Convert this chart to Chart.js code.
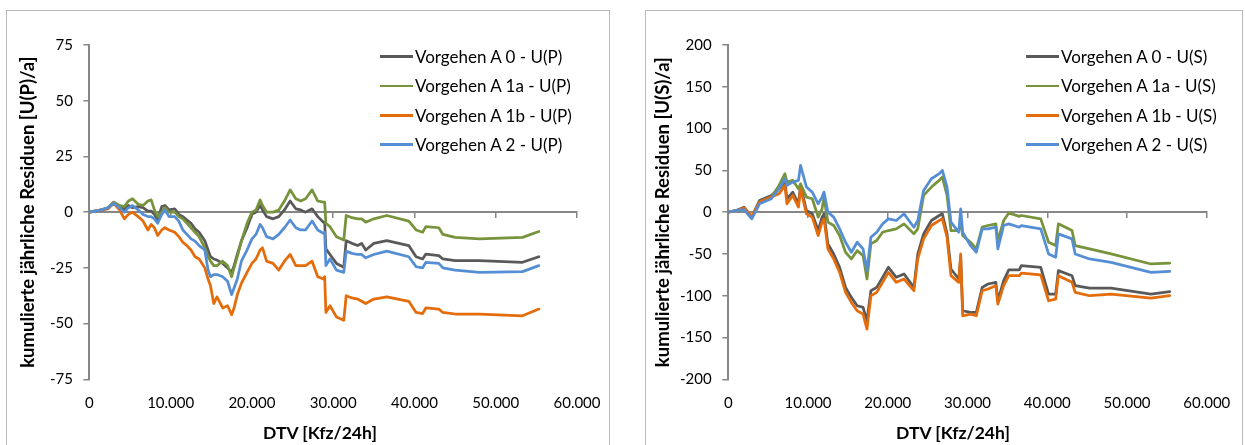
<!DOCTYPE html>
<html>
<head>
<meta charset="utf-8">
<script src="https://cdn.jsdelivr.net/npm/chart.js@4.4.1/dist/chart.umd.min.js"></script>
<style>
  html, body { margin: 0; padding: 0; background: #fff; width: 1245px; height: 445px; overflow: hidden; font-family: Lato, "Noto Sans", sans-serif; }
  .frame { position: absolute; border: 1px solid #b8b8b8; box-sizing: border-box; }
  canvas { position: absolute; top: 0; }
  .item { position: absolute; height: 20px; display: flex; align-items: center; white-space: nowrap; font-size: 17px; color: #000; }
  .swatch { display: inline-block; width: 33px; height: 2.5px; margin-right: 2px; }
  .xtitle { position: absolute; width: 300px; text-align: center; font-weight: bold; font-size: 17.5px; color: #000; line-height: 20px; }
</style>
</head>
<body>
<div class="frame" style="left:6px; top:10px; width:604px; height:450px"></div>
<div class="frame" style="left:645px; top:10px; width:598px; height:450px"></div>
<canvas id="chartP" width="625" height="445" style="left:0"></canvas>
<canvas id="chartS" width="620" height="445" style="left:625px"></canvas>
<div id="legendP"></div>
<div id="legendS"></div>
<div class="xtitle" id="xtP" style="left:170px; top:423px"></div>
<div class="xtitle" id="xtS" style="left:803px; top:423px"></div>
<script>
// ---- series names and colours ----
const SERIES_P = ["Vorgehen A 0 - U(P)", "Vorgehen A 1a - U(P)", "Vorgehen A 1b - U(P)", "Vorgehen A 2 - U(P)"];
const SERIES_S = ["Vorgehen A 0 - U(S)", "Vorgehen A 1a - U(S)", "Vorgehen A 1b - U(S)", "Vorgehen A 2 - U(S)"];
const COLORS = ["#595959", "#77933C", "#E46C0A", "#558ED5"];
const X_TITLE = "DTV [Kfz/24h]";
const Y_TITLE_P = "kumulierte jährliche Residuen [U(P)/a]";
const Y_TITLE_S = "kumulierte jährliche Residuen [U(S)/a]";

// ---- U(P): cumulative residuals over DTV ----
const DTV_P = [0, 1500, 2300, 3000, 3700, 4300, 4800, 5300, 6000, 6600, 7200, 7600, 8000, 8400, 8900, 9300, 9800, 10500, 11000, 11500,
  12000, 12500, 13000, 13500, 14200, 14600, 14900, 15300, 15700, 16400, 17000, 17500, 17800, 18200, 18700, 19400, 20000, 20500, 21000, 21300,
  21800, 22600, 23300, 24000, 24700, 25400, 26000, 26600, 27400, 28100, 28800, 28950, 29100, 29600, 30400, 31300, 31600, 32300, 33000, 33500,
  34000, 35000, 36600, 39300, 40200, 41000, 41400, 43000, 43500, 45000, 48000, 53300, 55300];
const A0_P = [0, 1, 2, 4.5, 2, 1.5, 3, 2, 2.5, 2, 0.5, 0.5, -1, -3.5, 2.5, 3, 1, 1.5, -1, -2,
  -3.5, -5, -7.5, -9, -12.8, -17, -20, -21, -21.5, -23, -25, -27, -24, -19, -13, -7, -1, 0, 3, 1,
  -2, -3, -2, 1, 5, 1.5, 1, 0, 1.5, -2, -4.5, -4.5, -16.5, -19, -23, -24.7, -12.8, -14, -15, -14,
  -17, -14, -12.8, -15, -20, -21, -18.8, -19.5, -21, -21.7, -21.7, -22.5, -20];
const A1A_P = [0, 1, 2, 4.5, 3, 2.5, 5, 6, 3.5, 3, 5, 5.5, 1, -2, 0, 2, 0, 0, -2, -3,
  -5, -7, -9, -11, -16, -20, -22, -24, -24, -22, -24, -29, -25, -20, -13, -5, 0, 1, 5.5, 3,
  0, 0, 1, 5, 10, 6, 5, 6, 10, 5, 4.5, 4.5, -5, -6.5, -11, -12.5, -1.5, -2.5, -3, -3,
  -4.5, -3, -1.5, -4, -8, -9, -6.5, -7, -10, -11.3, -12, -11.3, -8.7];
const A1B_P = [0, 1, 1.5, 4, 1, -3, -1, 0, -2, -4, -8, -5.5, -7, -10.5, -8, -7, -8, -9, -11, -13.5,
  -15, -17, -20, -21, -25, -30, -33, -41, -38, -43, -42, -46, -43, -37, -32, -27, -23, -21, -17, -16,
  -22, -23, -26, -22, -19, -24, -24, -24, -22, -29, -30, -29, -45, -42, -47, -48.5, -37.5, -38.5, -39, -40,
  -41, -39, -38, -40, -45, -45.5, -43, -43.5, -45, -45.7, -45.8, -46.5, -43.5];
const A2_P = [0, 1, 2, 4, 2, 0, 2, 3, 1, -1, -2, -2, -3, -5, -1, 1, -2, -2, -4, -8,
  -10, -12, -13, -15, -17, -26, -29, -28, -28, -29, -31, -37, -34, -30, -22, -17, -12, -10, -5.5, -7,
  -11, -12, -10, -7, -3.5, -7, -8, -8, -4, -8, -9.5, -9, -24, -21, -26, -27, -17.5, -18.5, -19, -19,
  -20.5, -19, -17.5, -20, -24.5, -25, -22.5, -23, -25, -26, -27, -26.7, -24];

// ---- U(S): cumulative residuals over DTV ----
const DTV_S = [0, 1000, 1960, 2940, 3920, 5390, 6370, 7100, 7350, 8080, 8800, 9060, 9800, 10530, 11270, 11760, 12000, 12490, 13220, 13960,
  14700, 15430, 16160, 16900, 17390, 17880, 18610, 19350, 20080, 21060, 22040, 23270, 23760, 24490, 25470, 26450, 26840, 27430, 27920, 28900,
  29140, 29390, 30370, 31100, 31840, 32570, 33550, 33800, 34530, 35170, 36490, 36740, 39180, 40160, 41050, 41390, 43100, 43500, 45300, 48000,
  53000, 55350];
const A0_S = [0, 2, 6, -6, 14, 20, 28, 36, 16, 24, 10, 32, 2, -2, -22, -6, -2, -38, -50, -66,
  -90, -102, -112, -114, -130, -94, -90, -78, -66, -78, -74, -90, -50, -26, -10, -4, -2, -26, -68, -80,
  -54, -118, -120, -120, -90, -86, -84, -106, -82, -69, -69, -64, -66, -98, -98, -70, -76, -88, -91, -91,
  -98, -95];
const A1A_S = [0, 2, 4, -6, 12, 18, 32, 46, 36, 38, 28, 34, 18, 16, -6, 4, 18, -12, -16, -28,
  -48, -56, -46, -52, -80, -38, -34, -24, -22, -20, -14, -26, -20, 20, 30, 38, 42, 20, -22, -22,
  -10, -28, -36, -44, -18, -16, -14, -34, -10, -1, -5, -4, -8, -36, -40, -14, -22, -40, -44, -50,
  -62, -61];
const A1B_S = [0, 2, 5, -5, 12, 18, 22, 32, 10, 20, 6, 28, -2, -6, -28, -12, -8, -44, -56, -72,
  -96, -108, -118, -122, -140, -100, -96, -84, -72, -84, -80, -94, -56, -32, -16, -10, -8, -30, -76, -84,
  -50, -124, -122, -124, -94, -92, -88, -110, -88, -76, -76, -73, -75, -106, -104, -76, -84, -96, -100, -98,
  -103, -100];
const A2_S = [0, 2, 3, -8, 10, 16, 28, 40, 32, 36, 38, 56, 30, 24, 10, 18, 24, 0, -6, -20,
  -36, -48, -36, -44, -70, -30, -24, -14, -8, -10, -2, -18, -10, 26, 40, 46, 50, 30, -12, -24,
  4, -24, -40, -48, -20, -20, -18, -44, -16, -14, -18, -16, -20, -50, -54, -26, -32, -50, -56, -60,
  -72, -71];

// ---- tick settings ----
const X_MIN = 0, X_MAX = 60000, X_STEP = 10000;
const Y_P = { min: -75, max: 75, step: 25 };
const Y_S = { min: -200, max: 200, step: 50 };

const AXIS_GREY = "#878787";
const FONT = "Lato, 'Noto Sans', sans-serif";

// German thousands separator: 10000 -> "10.000"
function fmt(v) {
  return String(v).replace(/\B(?=(\d{3})+(?!\d))/g, ".");
}

function toPoints(xs, ys) {
  return xs.map((x, i) => ({ x: x, y: ys[i] }));
}

function buildLegend(el, left, names) {
  names.forEach((name, i) => {
    const item = document.createElement("div");
    item.className = "item";
    item.style.left = left + "px";
    item.style.top = (56.5 + i * 29.4 - 10) + "px";
    const sw = document.createElement("span");
    sw.className = "swatch";
    sw.style.background = COLORS[i];
    item.appendChild(sw);
    item.appendChild(document.createTextNode(name));
    el.appendChild(item);
  });
}

function makeChart(id, dtv, series, names, yr, yTitle, g) {
  const datasets = series.map((vals, i) => ({
    label: names[i],
    data: toPoints(dtv, vals),
    borderColor: COLORS[i],
    backgroundColor: COLORS[i],
    borderWidth: 2.75,
    borderJoinStyle: "round",
    borderCapStyle: "round",
    pointRadius: 0,
    tension: 0,
    fill: false,
    order: series.length - 1 - i
  }));
  return new Chart(document.getElementById(id), {
    type: "line",
    data: { datasets: datasets },
    options: {
      responsive: false,
      devicePixelRatio: 1,
      animation: false,
      layout: { padding: { left: 0, top: g.top, right: g.right, bottom: 0 } },
      plugins: { legend: { display: false }, tooltip: { enabled: false } },
      scales: {
        x: {
          type: "linear",
          position: "bottom",
          min: X_MIN, max: X_MAX,
          grid: { display: false, drawTicks: false },
          border: { display: false },
          ticks: { stepSize: X_STEP, padding: g.xTickPad, color: "#000", font: { family: FONT, size: 15 }, callback: v => fmt(v), maxRotation: 0 },
          afterFit: s => { s.height = g.xHeight; }
        },
        x0: {
          type: "linear",
          axis: "x",
          position: { y: 0 },
          min: X_MIN, max: X_MAX,
          grid: {
            display: true, drawOnChartArea: false, drawTicks: true, tickLength: 5, lineWidth: 1.5,
            color: c => (c.tick && c.tick.value === 0 ? "rgba(0,0,0,0)" : AXIS_GREY)
          },
          border: { display: true, color: AXIS_GREY, width: 2 },
          ticks: { display: false, stepSize: X_STEP },
          afterFit: s => { s.height = 0; }
        },
        y: {
          type: "linear",
          position: "left",
          min: yr.min, max: yr.max,
          grid: { display: true, drawOnChartArea: false, drawTicks: true, tickLength: 6, color: AXIS_GREY, lineWidth: 1.5 },
          border: { display: true, color: AXIS_GREY, width: 2 },
          ticks: { stepSize: yr.step, padding: g.yTickPad, color: "#000", font: { family: FONT, size: 15 } },
          title: {
            display: true, text: yTitle, color: "#000",
            font: { family: FONT, size: 18.5, weight: "bold" },
            padding: { top: g.yTitlePad, bottom: 0 }
          },
          afterFit: s => { s.width = g.yWidth; }
        }
      }
    }
  });
}

makeChart("chartP", DTV_P, [A0_P, A1A_P, A1B_P, A2_P], SERIES_P, Y_P, Y_TITLE_P,
  { top: 45, right: 48, xHeight: 65.7, yWidth: 89.4, xTickPad: 14.7, yTickPad: 10.4, yTitlePad: 16.9 });
makeChart("chartS", DTV_S, [A0_S, A1A_S, A1B_S, A2_S], SERIES_S, Y_S, Y_TITLE_S,
  { top: 45, right: 30, xHeight: 65.7, yWidth: 103.3, xTickPad: 14.7, yTickPad: 10.7, yTitlePad: 27.4 });

buildLegend(document.getElementById("legendP"), 380, SERIES_P);
buildLegend(document.getElementById("legendS"), 1026, SERIES_S);
document.getElementById("xtP").textContent = X_TITLE;
document.getElementById("xtS").textContent = X_TITLE;
</script>
</body>
</html>
